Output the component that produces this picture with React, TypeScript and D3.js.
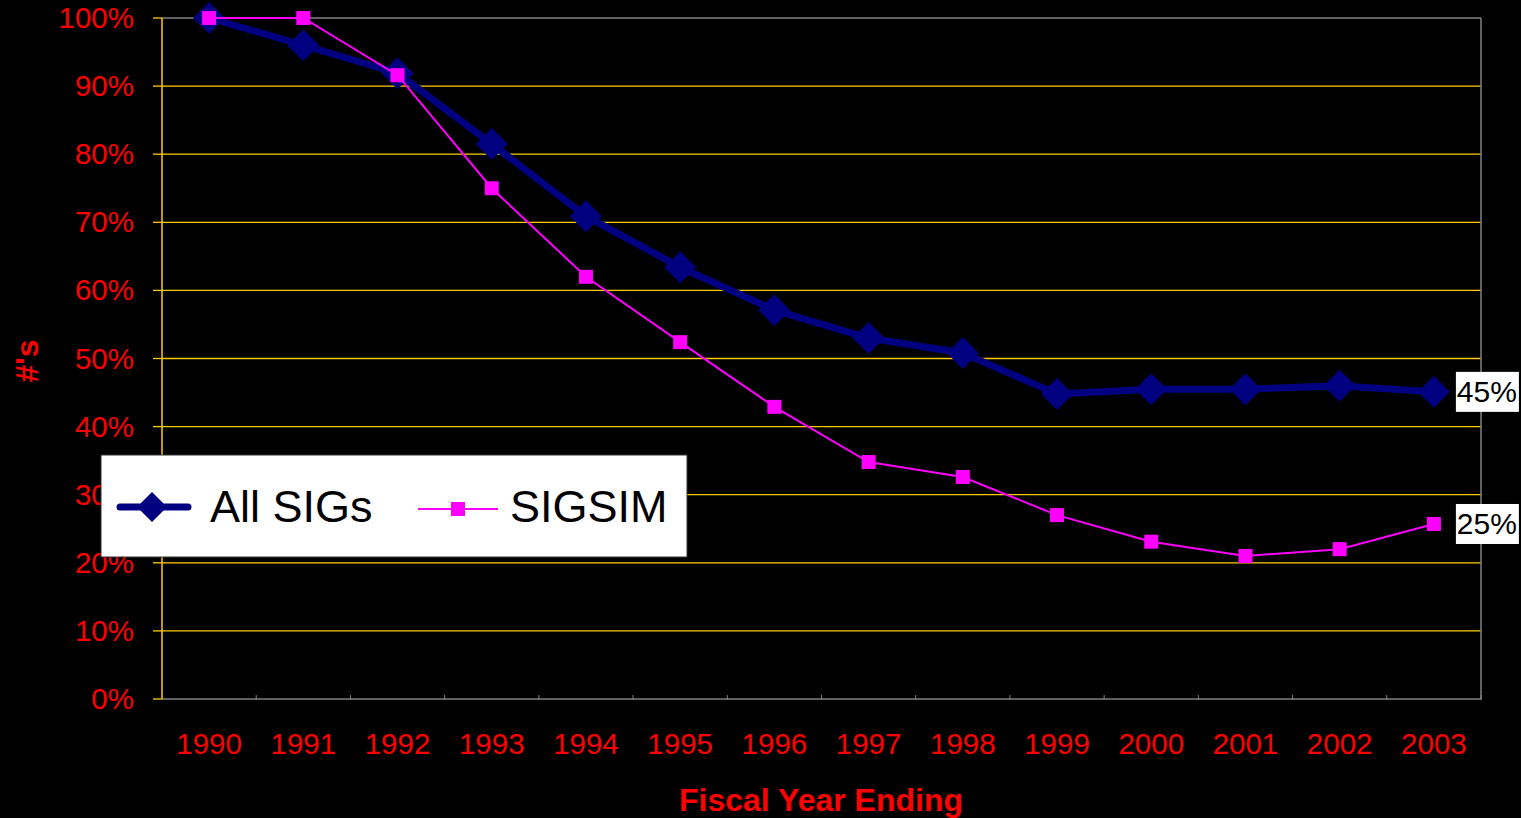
import React from "react";
import * as d3 from "d3";

const years = ["1990", "1991", "1992", "1993", "1994", "1995", "1996", "1997", "1998", "1999", "2000", "2001", "2002", "2003"];
const allSigs = [100, 96.0, 91.9, 81.5, 70.9, 63.4, 57.1, 53.0, 50.8, 44.8, 45.5, 45.5, 46.0, 45.1];
const sigsim = [100, 100, 91.6, 75.0, 62.0, 52.4, 42.9, 34.8, 32.6, 27.0, 23.1, 21.0, 22.0, 25.7];
const yTicks = [0, 10, 20, 30, 40, 50, 60, 70, 80, 90, 100];
const endLabels = ["45%", "25%"];

const W = 1521;
const H = 818;
const FONT = "'Liberation Sans', Arial, sans-serif";

const App: React.FC = () => {
  const left = 162;
  const right = 1481;
  const top = 18;
  const bottom = 699;

  const x = d3.scaleBand<string>().domain(years).range([left, right]);
  const y = d3.scaleLinear().domain([0, 100]).range([bottom, top]);
  const cx = (d: string) => (x(d) ?? 0) + x.bandwidth() / 2;

  const line = d3
    .line<number>()
    .x((_, i) => cx(years[i]))
    .y((d) => y(d));

  const diamond = (r: number) => `M0,${-r}L${r},0L0,${r}L${-r},0Z`;

  const lastX = cx(years[years.length - 1]);

  return (
    <svg width={W} height={H} style={{ position: "absolute", left: 0, top: 0 }} fontFamily={FONT}>
      <rect width={W} height={H} fill="#000" />

      {/* grid */}
      {yTicks.filter((t) => t > 0 && t < 100).map((t) => (
        <line key={t} x1={left} x2={right} y1={y(t)} y2={y(t)} stroke="#FFCC00" strokeWidth={1.3} />
      ))}
      {/* plot border (top + right + bottom) */}
      <line x1={left} x2={right} y1={y(100)} y2={y(100)} stroke="#808080" strokeWidth={1.5} />
      <line x1={right} x2={right} y1={top} y2={bottom} stroke="#808080" strokeWidth={1.5} />
      <line x1={left} x2={right} y1={bottom} y2={bottom} stroke="#808080" strokeWidth={1.5} />
      {years.map((yr) => (
        <line key={yr} x1={(x(yr) ?? 0) + x.bandwidth()} x2={(x(yr) ?? 0) + x.bandwidth()} y1={bottom - 4} y2={bottom + 1} stroke="#808080" strokeWidth={1} />
      ))}

      {/* y axis */}
      <line x1={left} x2={left} y1={top} y2={bottom} stroke="#FFCC00" strokeWidth={1.5} />
      {yTicks.map((t) => (
        <g key={t}>
          <line x1={left - 9} x2={left} y1={y(t)} y2={y(t)} stroke="#FFCC00" strokeWidth={1.3} />
          <text x={134} y={y(t) + 10} textAnchor="end" fill="#FF0000" fontSize={29.5}>
            {t}%
          </text>
        </g>
      ))}

      {/* x labels */}
      {years.map((yr) => (
        <text key={yr} x={cx(yr)} y={754} textAnchor="middle" fill="#FF0000" fontSize={29.5}>
          {yr}
        </text>
      ))}

      <text x={821} y={811} textAnchor="middle" fill="#FF0000" fontSize={32} fontWeight="bold">
        Fiscal Year Ending
      </text>
      <text transform="translate(38,361) rotate(-90)" textAnchor="middle" fill="#FF0000" fontSize={32} fontWeight="bold">
        #'s
      </text>

      {/* All SIGs */}
      <path d={line(allSigs) ?? ""} fill="none" stroke="#000080" strokeWidth={7} strokeLinejoin="round" />
      {allSigs.map((v, i) => (
        <path key={i} d={diamond(16)} transform={`translate(${cx(years[i])},${y(v)})`} fill="#000080" />
      ))}

      {/* SIGSIM */}
      <path d={line(sigsim) ?? ""} fill="none" stroke="#FF00FF" strokeWidth={2} />
      {sigsim.map((v, i) => (
        <rect key={i} x={cx(years[i]) - 7} y={y(v) - 7} width={14} height={14} fill="#FF00FF" />
      ))}

      {/* end labels */}
      {[allSigs, sigsim].map((s, k) => (
        <g key={k} transform={`translate(${lastX + 22},${y(s[s.length - 1])})`}>
          <rect x={0} y={-20} width={63} height={40} fill="#fff" />
          <text x={31} y={10} textAnchor="middle" fill="#000" fontSize={30}>
            {endLabels[k]}
          </text>
        </g>
      ))}

      {/* legend */}
      <g>
        <rect x={101} y={455} width={586} height={102} fill="#fff" stroke="#333" strokeWidth={1} />
        <line x1={120} x2={188} y1={507} y2={507} stroke="#000080" strokeWidth={7} strokeLinecap="round" />
        <path d={diamond(15)} transform="translate(152,507)" fill="#000080" />
        <text x={210} y={522} fill="#000" fontSize={45}>
          All SIGs
        </text>
        <line x1={418} x2={498} y1={509} y2={509} stroke="#FF00FF" strokeWidth={2} />
        <rect x={451} y={502} width={14} height={14} fill="#FF00FF" />
        <text x={510} y={522} fill="#000" fontSize={45}>
          SIGSIM
        </text>
      </g>
    </svg>
  );
};

export default App;
